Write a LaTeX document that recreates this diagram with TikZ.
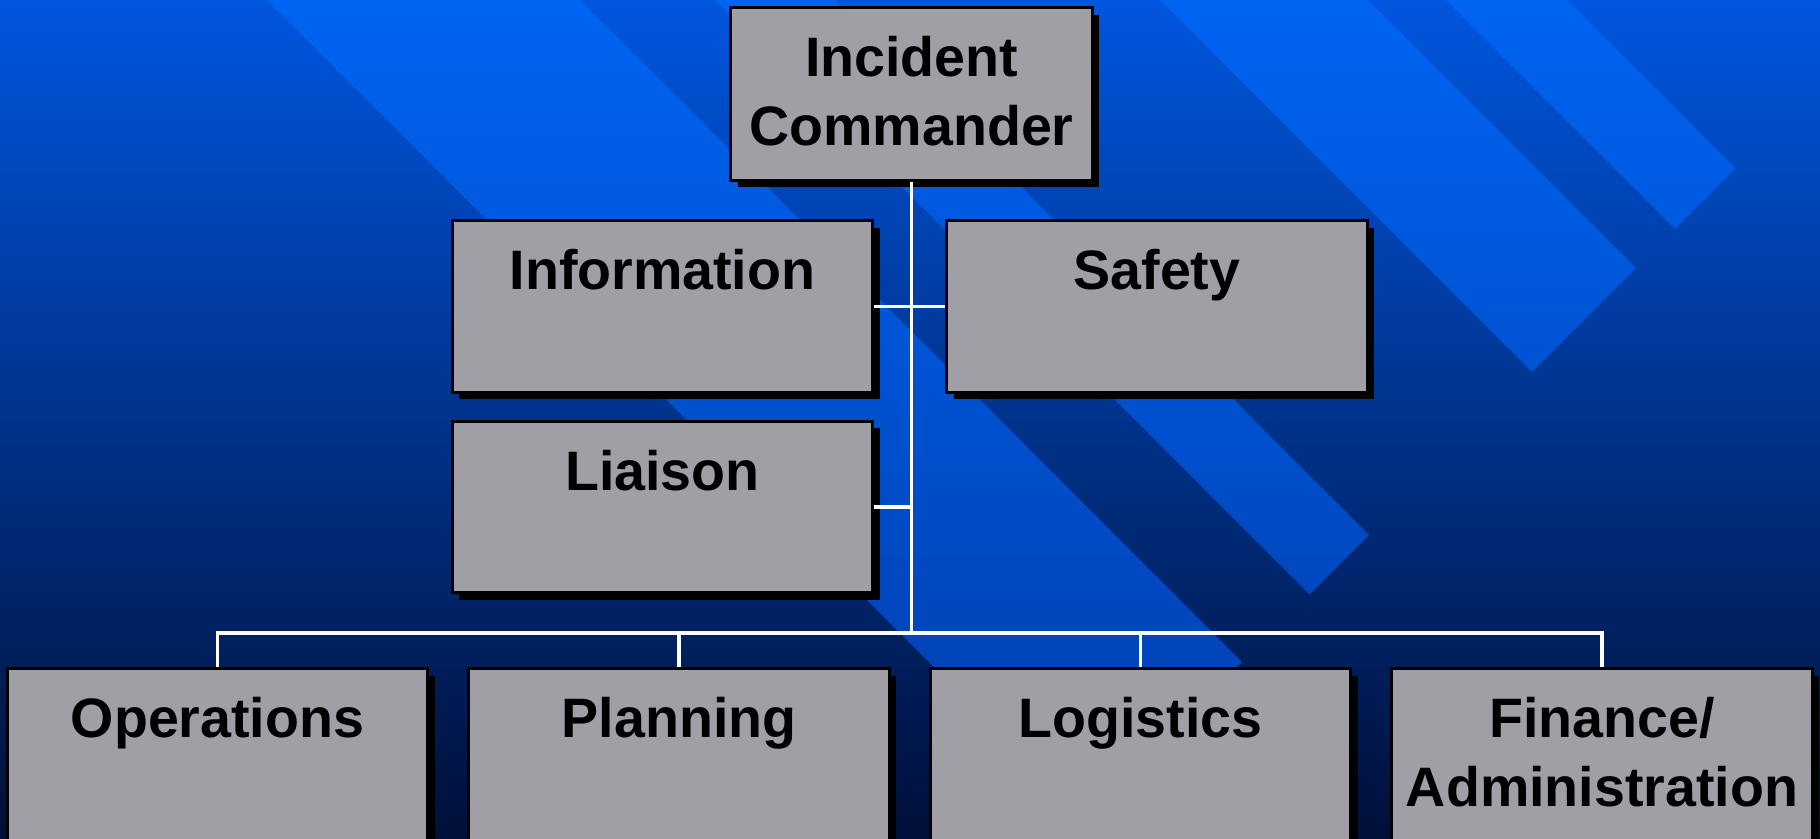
\documentclass[tikz,border=0pt]{standalone}
\usepackage{fontspec}
\setmainfont{Liberation Sans}
\usetikzlibrary{shadows}

\definecolor{boxgray}{HTML}{A09FA5}
\definecolor{bgtop}{HTML}{0056DE}
\definecolor{bgmid}{HTML}{0042AA}
\definecolor{bgbot}{HTML}{000F38}
\definecolor{bandtop}{HTML}{0064F2}
\definecolor{bandmid}{HTML}{0052D2}
\definecolor{bandbot}{HTML}{003CAA}

\begin{document}
\begin{tikzpicture}[x=0.01cm,y=-0.01cm]

    % background and stripes
    \useasboundingbox (0,0) rectangle (1820,839);
    \shade[top color=bgtop, middle color=bgmid, bottom color=bgbot] (0,0) rectangle (1820,839);
    \begin{scope}
        \clip (0,0) rectangle (1820,839);
        \clip (267,0) -- (580,0) -- (1242,662) -- (1085.5,818.5) -- cycle
              (715,0) -- (834,0) -- (1369,535) -- (1309.5,594.5) -- cycle
              (1160,0) -- (1368,0) -- (1636,268) -- (1532,372) -- cycle
              (1446,0) -- (1567,0) -- (1735.5,168.5) -- (1675,229) -- cycle;
        \shade[top color=bandtop, middle color=bandmid, bottom color=bandbot] (0,0) rectangle (1820,839);
    \end{scope}

    \begin{scope}[every node/.style={draw=black,line width=0.85pt,fill=boxgray,
            drop shadow={shadow xshift=0.07cm,shadow yshift=-0.07cm,opacity=1,fill=black},
            inner sep=0pt,text width=4.2cm,align=center,text height=0.69cm,text depth=1.02cm,
            font=\bfseries\fontsize{15.8}{19.5}\selectfont}]
        \node[text width=3.61cm,text depth=1.03cm] (ic) at (911.5,94) {Incident\\Commander};
        \node (info) at (662.5,306.5) {Information};
        \node (safety) at (1157,306.5) {Safety};
        \node (liaison) at (662.5,507) {Liaison};
        \node (ops) at (217.5,754.5) {Operations};
        \node (plan) at (679,754.5) {Planning};
        \node (logi) at (1140.5,754.5) {Logistics};
        \node (fin) at (1602,754.5) {Finance/\\Administration};
    \end{scope}

    \begin{scope}[draw=white,line width=0.9pt]
        \coordinate (bus) at (911.5,633);
        \draw (ic.south) -- (bus);
        \draw (info.east) -- (safety.west);
        \draw (liaison.east) -- (liaison.east -| bus);

        \draw (ops.north) |- (bus) -| (fin.north);
        \draw (plan.north) -- (plan.north |- bus);
        \draw (logi.north) -- (logi.north |- bus);
    \end{scope}

\end{tikzpicture}
\end{document}
